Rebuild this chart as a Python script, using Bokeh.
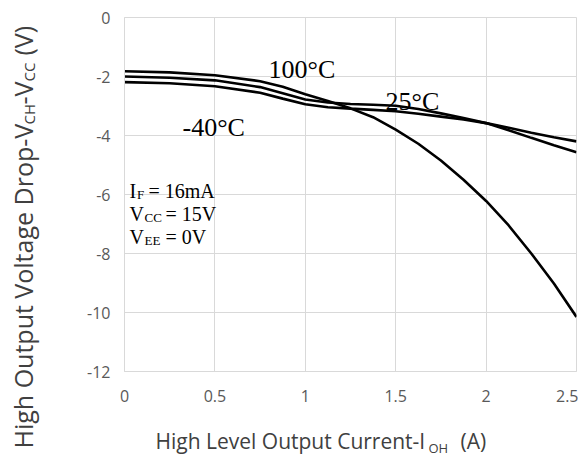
import math
from bokeh.plotting import figure
from bokeh.models import Range1d, FixedTicker, Label
from bokeh.core.properties import value
from bokeh.embed import file_html
from bokeh.resources import INLINE

# ---- data ----
current = [0, 0.25, 0.5, 0.75, 0.875, 1.0, 1.125, 1.25, 1.375, 1.5, 1.625, 1.75, 1.875,
           2.0, 2.125, 2.25, 2.375, 2.5]
drop_100c = [-1.82, -1.86, -1.96, -2.16, -2.35, -2.60, -2.83, -3.08, -3.38, -3.80, -4.28,
             -4.85, -5.50, -6.22, -7.05, -8.00, -9.02, -10.15]
drop_25c = [-2.00, -2.04, -2.13, -2.36, -2.57, -2.78, -2.88, -2.93, -2.96, -2.99, -3.10,
            -3.25, -3.41, -3.58, -3.82, -4.08, -4.33, -4.57]
drop_m40c = [-2.19, -2.23, -2.33, -2.55, -2.75, -2.94, -3.04, -3.09, -3.13, -3.18, -3.26,
             -3.36, -3.46, -3.58, -3.74, -3.91, -4.06, -4.20]

x_ticks = [0, 0.5, 1, 1.5, 2, 2.5]
x_tick_labels = ["0", "0.5", "1", "1.5", "2", "2.5"]
y_ticks = [-12, -10, -8, -6, -4, -2, 0]
y_tick_labels = ["-12", "-10", "-8", "-6", "-4", "-2", "0"]

W, H = 578, 456
L, R, T, B = 124, 2, 17, 85
X0, X1, Y0, Y1 = 0, 2.5, -12, 0

p = figure(width=W, height=H, x_range=Range1d(X0, X1), y_range=Range1d(Y0, Y1),
           output_backend="svg", toolbar_location=None,
           min_border_left=L, min_border_right=R, min_border_top=T, min_border_bottom=B)
p.background_fill_color = "white"
p.border_fill_color = "white"
p.outline_line_color = "#d9d9d9"

grid_c = "#d9d9d9"
p.xgrid.grid_line_color = grid_c
p.ygrid.grid_line_color = grid_c
p.xaxis.ticker = FixedTicker(ticks=x_ticks)
p.yaxis.ticker = FixedTicker(ticks=y_ticks)
p.xaxis.major_label_overrides = dict(zip(x_ticks, x_tick_labels))
p.yaxis.major_label_overrides = dict(zip(y_ticks, y_tick_labels))

for ax in (p.xaxis, p.yaxis):
    ax.axis_line_color = grid_c
    ax.major_tick_line_color = None
    ax.minor_tick_line_color = None
    ax.major_tick_out = 0
    ax.major_tick_in = 0
    ax.major_label_text_font = "Open Sans"
    ax.major_label_text_font_size = "16px"
    ax.major_label_text_color = "#595959"
p.yaxis.major_label_standoff = 14
p.xaxis.major_label_standoff = 18

for ys in (drop_100c, drop_25c, drop_m40c):
    p.line(current, ys, line_color="black", line_width=2.6)

# pixel -> data helpers for text placement
sx = (X1 - X0) / (W - L - R)
sy = (Y1 - Y0) / (H - T - B)
def fx(px):
    return X0 + (px - L) * sx
def fy(py):
    return Y1 - (py - T) * sy

def lab(text, px, py, size, font="Liberation Serif", color="black"):
    p.add_layout(Label(x=fx(px), y=fy(py), text=text, text_font=font,
                       text_font_size=f"{size}px", text_color=color,
                       text_align="left", text_baseline="middle"))

# temperature labels
lab("100°C", 268, 69, 26)
lab("25°C", 385, 101, 26)
lab("-40°C", 182, 126.5, 26)

# condition block
for py, main, sub, rest, rx in ((190, "I", "F", "= 16mA", 148),
                                (213, "V", "CC", "= 15V", 165),
                                (236, "V", "EE", "= 0V", 165)):
    lab(main, 129, py, 20)
    lab(sub, 136.5 if main == "I" else 144, py + 3.5, 13)
    lab(rest, rx, py, 20)

# axis titles: text glyphs anchored at the frame centre, shifted by pixel offsets,
# drawn on the overlay level so they are not clipped to the frame
CX, CY = (L + W - R) / 2, (T + H - B) / 2
def outside(text, px, py, size, angle=0):
    p.text(x=[fx(CX)], y=[fy(CY)], text=[text], x_offset=px - CX, y_offset=py - CY,
           angle=angle, text_font=value("Open Sans"), text_font_size=value(f"{size}px"),
           text_color="#404040", text_align="left", text_baseline="middle",
           level="overlay")

outside("High Level Output Current-I", 155, 440, 21)
outside("OH", 428, 447, 13)
outside("(A)", 460, 440, 21)

a = math.pi / 2
outside("High Output Voltage Drop-V", 22, 448, 25, a)
outside("CH", 28, 124, 15, a)
outside("-V", 22, 104, 25, a)
outside("CC", 28, 81, 15, a)
outside("(V)", 22, 55, 25, a)

open("out.html", "w").write(file_html(p, INLINE))
